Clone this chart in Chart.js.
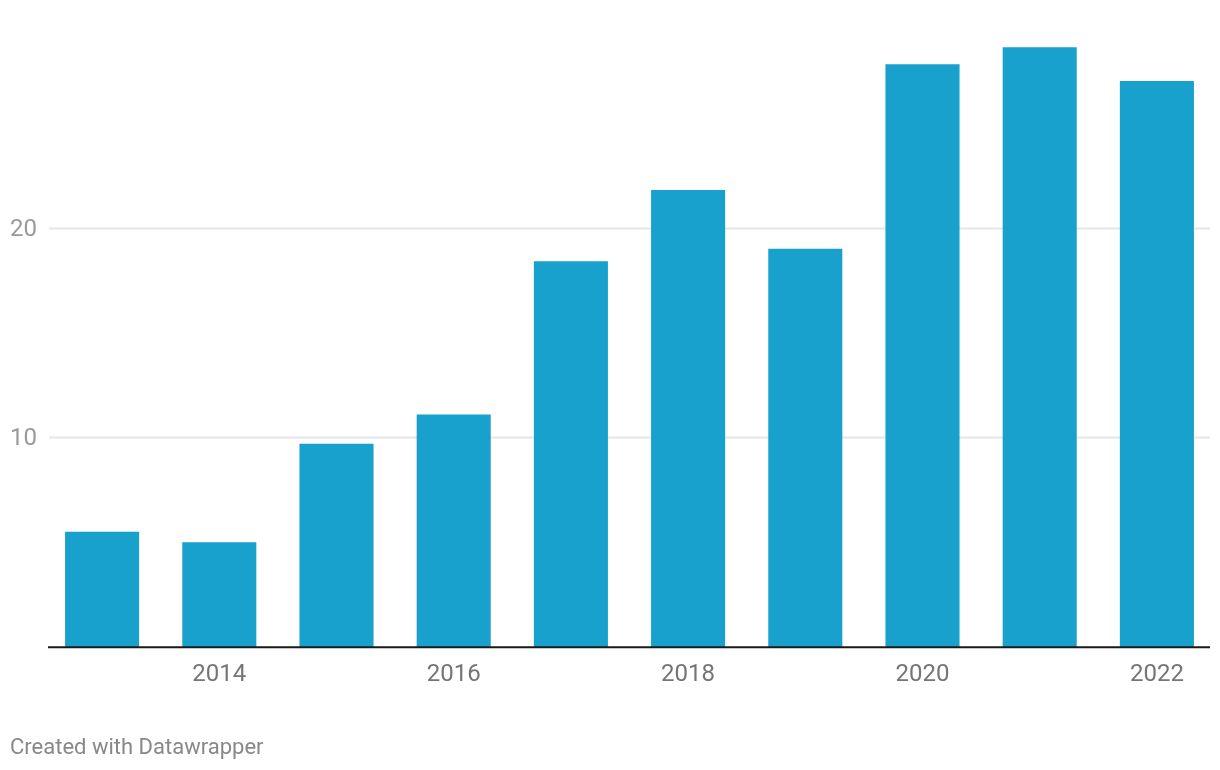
<!DOCTYPE html>
<html>
<head>
<meta charset="utf-8">
<script src="https://cdn.jsdelivr.net/npm/chart.js@4/dist/chart.umd.min.js"></script>
<style>
  body { margin: 0; background: #fff; font-family: Roboto, sans-serif; }
  #wrap { position: relative; width: 1220px; height: 770px; }
  #credit { position: absolute; left: 10px; top: 733px; font-size: 22px; line-height: 28px; color: #888; }
</style>
</head>
<body>
<div id="wrap">
  <canvas id="myChart" width="1220" height="770"></canvas>
  <div id="credit">Created with Datawrapper</div>
</div>
<script>
// data
var years = ['2013', '2014', '2015', '2016', '2017', '2018', '2019', '2020', '2021', '2022'];
var values = [5.5, 5.0, 9.7, 11.1, 18.4, 21.8, 19.0, 27.8, 28.6, 27.0];
var yTicks = [10, 20];

// grid lines, y labels and the base line
var gridPlugin = {
  id: 'grid',
  beforeDatasetsDraw: function(chart) {
    var ctx = chart.ctx;
    var y = chart.scales.y;
    ctx.save();
    ctx.font = '24px Roboto';
    ctx.textAlign = 'left';
    ctx.textBaseline = 'middle';
    yTicks.forEach(function(v) {
      var py = Math.round(y.getPixelForValue(v)) + 0.5;
      ctx.strokeStyle = '#e6e6e6';
      ctx.lineWidth = 2;
      ctx.beginPath();
      ctx.moveTo(49, py);
      ctx.lineTo(1210, py);
      ctx.stroke();
      ctx.fillStyle = '#9a9a9a';
      ctx.fillText(String(v), 10, py + 1);
    });
    ctx.restore();
  },
  afterDatasetsDraw: function(chart) {
    var ctx = chart.ctx;
    var py = chart.scales.y.getPixelForValue(0);
    ctx.save();
    ctx.strokeStyle = '#1a1a1a';
    ctx.lineWidth = 2;
    ctx.beginPath();
    ctx.moveTo(48, py);
    ctx.lineTo(1210, py);
    ctx.stroke();
    ctx.restore();
  }
};

var ctx = document.getElementById('myChart').getContext('2d');
var myChart = new Chart(ctx, {
  type: 'bar',
  data: {
    labels: years,
    datasets: [{
      data: values,
      backgroundColor: '#18a1cd',
      barPercentage: 0.632,
      categoryPercentage: 1.0
    }]
  },
  options: {
    responsive: false,
    animation: false,
    layout: { padding: { left: 43.5, right: 4.5, top: 18, bottom: 68 } },
    plugins: { legend: { display: false }, tooltip: { enabled: false } },
    scales: {
      x: {
        grid: { display: false, drawTicks: false },
        border: { display: false },
        ticks: {
          autoSkip: false,
          maxRotation: 0,
          padding: 13,
          color: '#757575',
          font: { family: 'Roboto', size: 24 },
          callback: function(val, i) {
            var yr = years[i];
            return (parseInt(yr) % 2 === 0) ? yr : '';
          }
        }
      },
      y: {
        display: false,
        min: 0,
        max: 30
      }
    }
  },
  plugins: [gridPlugin]
});
</script>
</body>
</html>
